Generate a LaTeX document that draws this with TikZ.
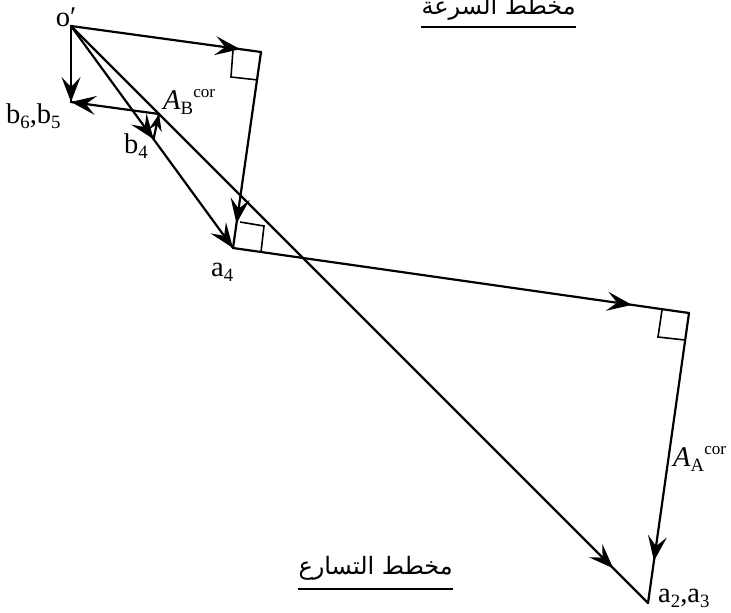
\documentclass[tikz,border=0pt]{standalone}
\usepackage{fontspec}
\setmainfont{Liberation Serif}
\newfontfamily\arabicfont[Script=Arabic]{DejaVu Sans}
\TeXXeTstate=1
\usetikzlibrary{arrows.meta,decorations.markings}
\newcommand{\subt}[1]{\raisebox{-0.17em}{\scalebox{0.66}{#1}}}
\newcommand{\supt}[1]{\raisebox{0.4em}{\scalebox{0.6}{#1}}}
\tikzset{
  vec/.style={line width=2.2pt,line cap=round,line join=round},
  head/.tip={Stealth[length=25pt,width=19pt,inset=10pt]},
  smallhead/.tip={Stealth[length=17pt,width=13pt,inset=6pt]},
  tipat/.style={postaction={decorate},decoration={markings,mark=at position #1 with {\arrow{head}}}},
  twotips/.style 2 args={postaction={decorate},decoration={markings,mark=at position #1 with {\arrow{head}},mark=at position #2 with {\arrow{head}}}},
  smalltip/.style={postaction={decorate},decoration={markings,mark=at position 1 with {\arrow{smallhead}}}},
  sq/.style={line width=1.6pt},
  lab/.style={inner sep=0pt,font=\fontsize{28.5}{30}\selectfont},
  title/.style={inner sep=0pt,font=\fontsize{24}{28}\selectfont\arabicfont},
  rul/.style={line width=1.7pt}
}
\begin{document}
\begin{tikzpicture}[x=1pt,y=-1pt]
\useasboundingbox (0,0) rectangle (731,613);
\coordinate (o) at (71,26);
\coordinate (p) at (261,52);
\coordinate (a4) at (233,248);
\coordinate (q) at (689,313);
\coordinate (a2) at (648,603);
\coordinate (b6) at (71,102);
\coordinate (ab) at (159,114);
\coordinate (b4) at (153.5,139);
% square marks
\draw[sq] (233,50) -- (231,77) -- (258,80);
\draw[sq] (240,222) -- (264,226) -- (261,252);
\draw[sq] (662,310) -- (658,337) -- (685,340);
% vectors
\draw[vec,tipat=0.89] (o) -- (p);
\draw[vec,tipat=0.875] (p) -- (a4);
\draw[vec,tipat=0.875] (a4) -- (q);
\draw[vec,tipat=0.855] (q) -- (a2);
\draw[vec,tipat=0.94] (o) -- (a2);
\draw[vec,twotips={0.51}{1}] (o) -- (a4);
\draw[vec,tipat=1] (o) -- (b6);
\draw[vec,tipat=1] (ab) -- (b6);
\draw[vec,smalltip] (b4) -- (ab);
% labels
\node[lab] (no) at (66,17) {o′};
\node[lab,anchor=west] (nb65) at (6,116) {b\subt{6},b\subt{5}};
\node[lab,anchor=west] (nb4) at (124,146) {b\subt{4}};
\node[lab,anchor=west] (na4) at (211,272) {a\subt{4}};
\node[lab,anchor=west] (na2) at (658,598) {a\subt{2},a\subt{3}};
\node[lab,anchor=west] (nab) at (163,102) {\textit{A}\subt{B}\supt{cor}};
\node[lab,anchor=west] (naa) at (673,459) {\textit{A}\subt{A}\supt{cor}};
% titles
\node[title,anchor=east] (t1) at (576,8) {\beginR مخطط السرعة\endR};
\node[title,anchor=east] (t2) at (453,568) {\beginR مخطط التسارع\endR};
\draw[rul] (t1.east |- 0,27) -- (t1.west |- 0,27);
\draw[rul] (t2.east |- 0,589) -- (t2.west |- 0,589);
\end{tikzpicture}
\end{document}
